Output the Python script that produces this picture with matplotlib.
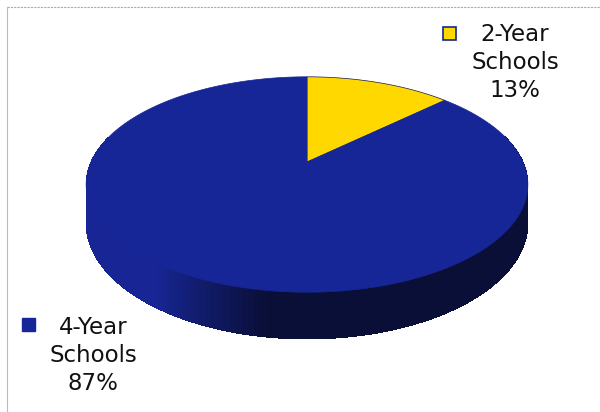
import numpy as np
import matplotlib.pyplot as plt
from matplotlib.patches import Rectangle

labels = ["2-Year Schools", "4-Year Schools"]
values = [13, 87]
colors = ["#ffd800", "#172696"]
edges = ["#101848", "#172696"]
side_light = np.array([0.09, 0.15, 0.58])
side_dark = np.array([0.04, 0.06, 0.22])

# pie geometry in pixels (perspective view of a tilted disc)
cx, cy = 307, 162
A, B, k = 216, 103, 0.209
H = 37


def project(t, drop=0.0):
    u = np.cos(t)
    v = -np.sin(t)
    w = 1 - k * v
    return cx + A * u / w, cy + (B * v + drop) / w


fig = plt.figure(figsize=(6.0, 4.12), dpi=100)
ax = fig.add_axes([0, 0, 1, 1])
ax.set_xlim(0, 600)
ax.set_ylim(412, 0)
ax.axis("off")

# frame lines
ax.plot([7, 600], [7, 7], color="#aaaaaa", lw=0.8, ls=(0, (2, 1)))
ax.plot([7, 7], [7, 412], color="#bbbbbb", lw=0.8)

# pie angles, start at 12 o'clock, clockwise
frac = np.array(values) / sum(values)
starts = np.deg2rad(90 - 360 * np.concatenate([[0], np.cumsum(frac)[:-1]]))
ends = starts - 2 * np.pi * frac

# side wall (front half): light on the left, dark from the front on
n = 150
ts = np.linspace(np.pi * 0.92, np.pi * 2.08, n + 1)
for i in range(n):
    t = np.linspace(ts[i], ts[i + 1] + 0.01, 3)
    x1, y1 = project(t)
    x2, y2 = project(t[::-1], H)
    f = np.clip((ts[i] - 1.3 * np.pi) / (0.15 * np.pi), 0, 1)
    c = side_light * (1 - f) + side_dark * f
    ax.fill(np.r_[x1, x2], np.r_[y1, y2], color=c, lw=0, antialiased=False)

# top faces
for s, e, col, ec in zip(starts, ends, colors, edges):
    t = np.linspace(s, e, 200)
    x, y = project(t)
    ax.fill(np.r_[cx, x], np.r_[cy, y], color=col, ec=ec, lw=0.5)

# labels with legend squares
txt = [f"{l.replace(' ', chr(10))}\n{v}%" for l, v in zip(labels, values)]
ax.text(515, 23, txt[0], ha="center", va="top", fontsize=16.5,
        linespacing=1.27, color="#111111")
ax.add_patch(Rectangle((443, 27), 13, 13, fc=colors[0], ec="#16248f", lw=1.2))
ax.text(93, 316, txt[1], ha="center", va="top", fontsize=16.5,
        linespacing=1.27, color="#111111")
ax.add_patch(Rectangle((22, 318), 13, 13, fc=colors[1], ec=colors[1], lw=1))

fig.savefig("out.png", dpi=100)
